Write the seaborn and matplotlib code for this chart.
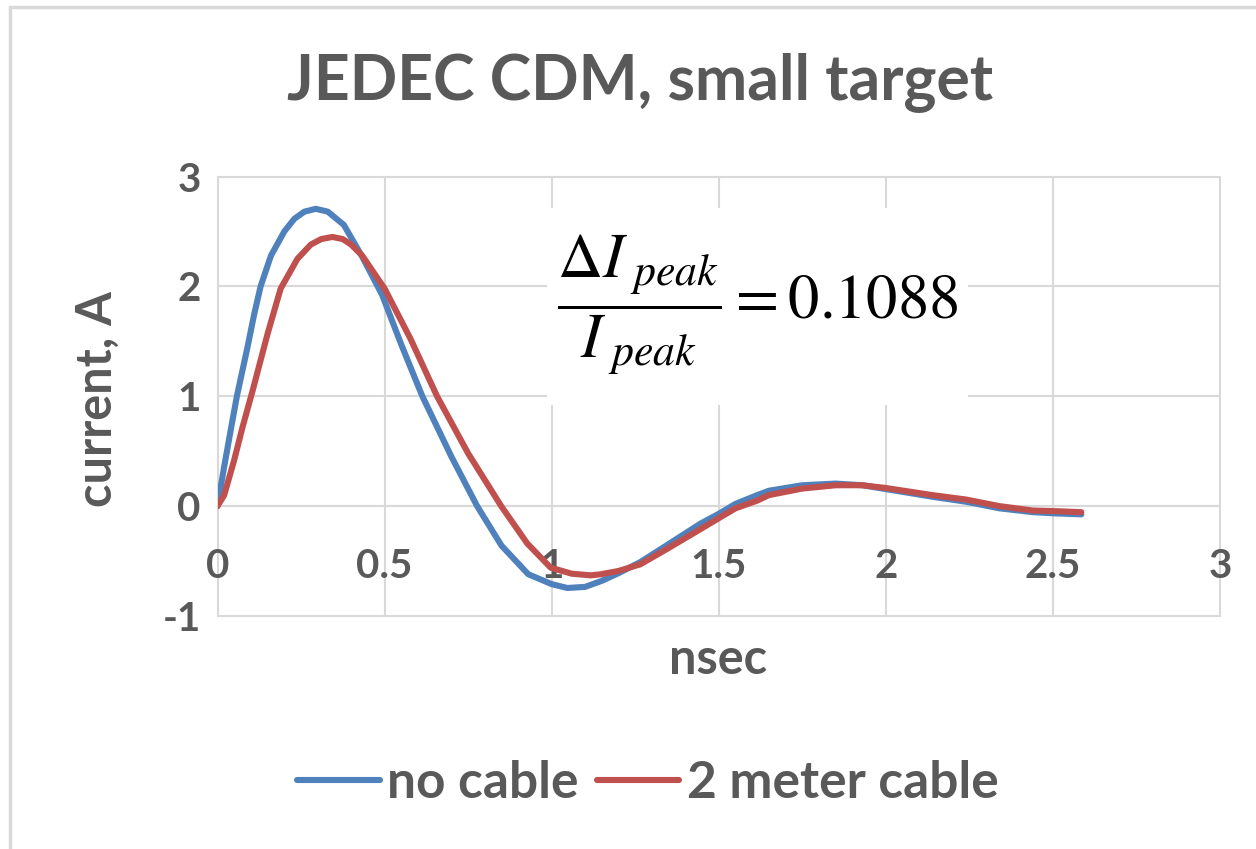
import matplotlib
matplotlib.use("Agg")
import matplotlib.pyplot as plt
import seaborn as sns
import pandas as pd
from matplotlib.lines import Line2D
from matplotlib.patches import Rectangle

# ---- data ----
t_no_cable = [0, 0.02, 0.04, 0.058, 0.09, 0.11, 0.129, 0.16, 0.2, 0.23, 0.26, 0.294, 0.33, 0.378,
              0.433, 0.493, 0.55, 0.613, 0.7, 0.777, 0.85, 0.93, 1.0, 1.047, 1.1, 1.15,
              1.2, 1.265, 1.345, 1.445, 1.5, 1.55, 1.615, 1.65, 1.75, 1.85, 1.93, 2.0,
              2.14, 2.24, 2.34, 2.44, 2.5, 2.585]
i_no_cable = [0.0, 0.36, 0.70, 1.0, 1.45, 1.75, 2.0, 2.28, 2.50, 2.615, 2.68, 2.706, 2.68, 2.56,
              2.27, 1.92, 1.47, 1.0, 0.45, 0.0, -0.36, -0.62, -0.71, -0.745, -0.735, -0.68,
              -0.61, -0.51, -0.355, -0.16, -0.07, 0.02, 0.10, 0.14, 0.19, 0.205, 0.19, 0.155,
              0.085, 0.04, -0.02, -0.055, -0.065, -0.075]

t_2m_cable = [0, 0.02, 0.05, 0.075, 0.105, 0.15, 0.189, 0.239, 0.279, 0.31, 0.344, 0.375, 0.4, 0.433,
              0.5, 0.578, 0.657, 0.75, 0.849, 0.927, 0.997, 1.06, 1.117, 1.147, 1.2, 1.265,
              1.345, 1.445, 1.5, 1.55, 1.615, 1.65, 1.75, 1.85, 1.93, 2.0, 2.14, 2.24,
              2.34, 2.44, 2.5, 2.585]
i_2m_cable = [0.0, 0.1, 0.42, 0.72, 1.05, 1.57, 1.98, 2.25, 2.38, 2.43, 2.45, 2.43, 2.38, 2.28,
              1.98, 1.52, 1.0, 0.48, 0.0, -0.34, -0.56, -0.615, -0.63, -0.62, -0.59, -0.53,
              -0.39, -0.21, -0.11, -0.02, 0.05, 0.10, 0.16, 0.19, 0.19, 0.165, 0.10, 0.06,
              0.0, -0.04, -0.045, -0.055]

series_names = ["no cable", "2 meter cable"]
series_colors = ["#4F81BD", "#C0504D"]
title_text = "JEDEC CDM, small target"
x_label = "nsec"
y_label = "current, A"
x_ticks = [0, 0.5, 1, 1.5, 2, 2.5, 3]
x_tick_labels = ["0", "0.5", "1", "1.5", "2", "2.5", "3"]
y_ticks = [-1, 0, 1, 2, 3]
y_tick_labels = ["-1", "0", "1", "2", "3"]
equation = r"$\dfrac{\Delta I_{\ peak}}{I_{\ peak}} = 0.1088$"

df = pd.concat([
    pd.DataFrame({"nsec": t_no_cable, "current": i_no_cable, "series": series_names[0]}),
    pd.DataFrame({"nsec": t_2m_cable, "current": i_2m_cable, "series": series_names[1]}),
])

sns.set_theme(style="white")
plt.rcParams["font.family"] = ["Lato", "DejaVu Sans"]
plt.rcParams["mathtext.fontset"] = "stix"

TXT = "#595959"
GRID = "#D9D9D9"

fig = plt.figure(figsize=(12.56, 8.49), dpi=100)
ax = fig.add_axes([217.5 / 1256, 1 - 616 / 849, (1220 - 217.5) / 1256, (616 - 176.5) / 849])

sns.lineplot(data=df, x="nsec", y="current", hue="series", palette=series_colors,
             hue_order=series_names, linewidth=4.4, ax=ax, legend=False, sort=False,
             estimator=None, zorder=5)
for ln in ax.get_lines():
    ln.set_solid_joinstyle("round")
    ln.set_solid_capstyle("round")

ax.set_xlim(0, 3)
ax.set_ylim(-1, 3)
ax.set_xticks(x_ticks)
ax.set_xticklabels(x_tick_labels)
ax.set_yticks(y_ticks)
ax.set_yticklabels(y_tick_labels)

for s in ["top", "right", "left"]:
    ax.spines[s].set_visible(False)
ax.spines["bottom"].set_position(("data", 0))
ax.spines["bottom"].set_color(GRID)
ax.spines["bottom"].set_linewidth(1.5)

ax.grid(True, color=GRID, linewidth=1.5, zorder=0)
for gl in ax.get_xgridlines() + ax.get_ygridlines():
    gl.set_clip_on(False)
ax.set_axisbelow(True)

ax.tick_params(axis="x", length=0, pad=30, labelsize=29, labelcolor=TXT)
ax.tick_params(axis="y", length=0, pad=12, labelsize=29, labelcolor=TXT)
for lab in ax.get_xticklabels() + ax.get_yticklabels():
    lab.set_fontweight("bold")

ax.set_xlabel("")
ax.set_ylabel("")
fig.text(718 / 1256, 1 - 660 / 849, x_label, ha="center", va="center",
         fontsize=35, fontweight="bold", color=TXT)
fig.text(97 / 1256, 1 - 399 / 849, y_label, ha="center", va="center", rotation=90,
         fontsize=35, fontweight="bold", color=TXT)

fig.text(640 / 1256, 1 - 82 / 849, title_text, ha="center", va="center",
         fontsize=45, fontweight="bold", color=TXT)

# white box behind the equation
ax.add_patch(Rectangle((0.987, 0.92), 2.247 - 0.987, 2.71 - 0.92, facecolor="white",
                       edgecolor="none", zorder=2))
ax.text(1.016, 1.83, equation, ha="left", va="center", fontsize=45, color="black", zorder=6)

# legend
handles = [Line2D([], [], color=c, linewidth=4.4) for c in series_colors]
leg = fig.legend(handles, series_names, loc="center", bbox_to_anchor=(648 / 1256, 1 - 783 / 849),
                 ncol=2, frameon=False, handlelength=1.6, handletextpad=0.15, columnspacing=0.35,
                 prop={"weight": "bold", "size": 37})
for t in leg.get_texts():
    t.set_color(TXT)

# chart border (top and left only)
fig.add_artist(Line2D([9.5 / 1256, 1], [1 - 6.5 / 849, 1 - 6.5 / 849], color="#D9D9D9",
                      linewidth=2.5, transform=fig.transFigure))
fig.add_artist(Line2D([9.5 / 1256, 9.5 / 1256], [0, 1 - 6.5 / 849], color="#D9D9D9",
                      linewidth=2.5, transform=fig.transFigure))

fig.savefig("out.png", dpi=100, facecolor="white")
